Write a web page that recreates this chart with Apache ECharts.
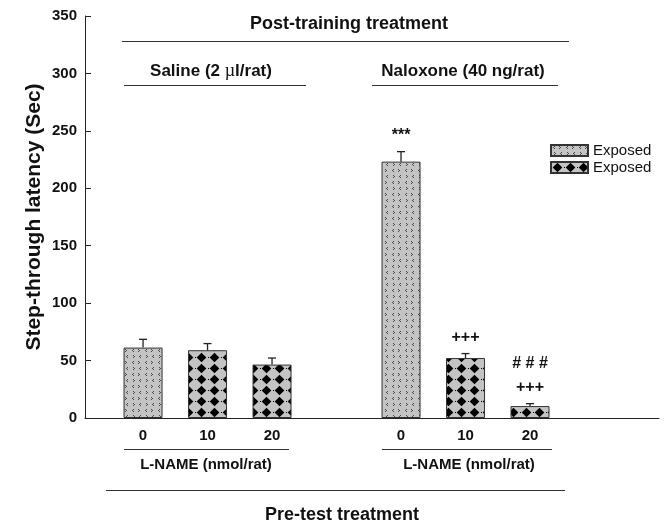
<!DOCTYPE html>
<html>
<head>
<meta charset="utf-8">
<script src="https://cdn.jsdelivr.net/npm/echarts@6/dist/echarts.min.js"></script>
<style>
  html, body { margin: 0; padding: 0; background: #fff; }
  #chart { width: 668px; height: 526px; }
</style>
</head>
<body>
<div id="chart"></div>
<script>
// Bar slots along the x axis (slot 4 is the gap between the two treatment groups)
const positions = [1, 2, 3, 5, 6, 7];
// L-NAME dose shown under each bar (nmol/rat)
const doseLabels = ['0', '10', '20', '0', '10', '20'];
// Mean step-through latency (s) and its SEM
const latency = [61.3, 59.0, 46.5, 223.2, 52.2, 10.4];
const sem = [7.2, 5.8, 5.7, 8.7, 3.9, 2.1];
// Which fill each bar uses: 0 = vehicle pre-test, 1 = L-NAME pre-test
const fillGroup = [0, 1, 1, 0, 1, 1];
// Significance marks stacked above the error bars (bottom line first)
const sigMarks = [[], [], [], ['***'], ['+++'], ['+++', '# # #']];
// Y axis ticks
const yTicks = { min: 0, max: 350, step: 50 };

const FONT = 'Arial, "Liberation Sans", Helvetica, sans-serif';
const INK = '#111';
const GROUND = '#c4c4c4';

// Tiled fill: grey ground with small "<" / ">" chevrons drawn pixel by pixel
function chevronTile() {
  const c = document.createElement('canvas');
  c.width = 13; c.height = 12;
  const g = c.getContext('2d');
  g.fillStyle = GROUND;
  g.fillRect(0, 0, 13, 12);
  g.fillStyle = '#4a4a4a';
  function lt(x, y) { g.fillRect(x + 1, y - 1, 1, 1); g.fillRect(x, y, 1, 1); g.fillRect(x + 1, y + 1, 1, 1); }
  function gt(x, y) { g.fillRect(x, y - 1, 1, 1); g.fillRect(x + 1, y, 1, 1); g.fillRect(x, y + 1, 1, 1); }
  lt(2, 2); gt(8, 2);
  gt(3, 8); lt(9, 8);
  return c;
}

// Tiled fill: grey ground with black diamonds
function diamondTile() {
  const c = document.createElement('canvas');
  c.width = 13; c.height = 11;
  const g = c.getContext('2d');
  g.fillStyle = GROUND;
  g.fillRect(0, 0, 13, 11);
  g.fillStyle = '#000';
  g.beginPath();
  g.moveTo(6.5, 0.8); g.lineTo(11.3, 5.5); g.lineTo(6.5, 10.2); g.lineTo(1.7, 5.5);
  g.closePath();
  g.fill();
  g.fillRect(0, 5, 1, 1);
  return c;
}

const fills = [
  { image: chevronTile(), repeat: 'repeat' },
  { image: diamondTile(), repeat: 'repeat' }
];

function barData(group) {
  const out = [];
  positions.forEach((p, i) => { if (fillGroup[i] === group) out.push([p, latency[i]]); });
  return out;
}

const errData = positions.map((p, i) => [p, latency[i], sem[i]]);

function renderErrorBars(params, api) {
  const x = api.value(0), y = api.value(1), e = api.value(2);
  const base = api.coord([x, y]);
  const top = api.coord([x, y + e]);
  const half = 4;
  const ink = { stroke: '#222', lineWidth: 1.3 };
  const children = [
    { type: 'line', shape: { x1: base[0], y1: base[1], x2: top[0], y2: top[1] }, style: ink },
    { type: 'line', shape: { x1: top[0] - half, y1: top[1], x2: top[0] + half, y2: top[1] }, style: ink }
  ];
  (sigMarks[params.dataIndex] || []).forEach((t, k) => {
    children.push({
      type: 'text',
      style: {
        text: t, x: top[0], y: top[1] - 16 - k * 24,
        align: 'center', verticalAlign: 'middle',
        font: 'bold 16px ' + FONT, fill: INK
      }
    });
  });
  return { type: 'group', children };
}

const chart = echarts.init(document.getElementById('chart'), null, { renderer: 'canvas' });

const boldText = (size) => ({ fontFamily: FONT, fontWeight: 'bold', fontSize: size, color: INK });

chart.setOption({
  animation: false,
  backgroundColor: '#fff',
  grid: { left: 85, right: 9, top: 16, bottom: 108 },
  xAxis: {
    type: 'value',
    min: 0.1,
    max: 9,
    axisLine: { show: true, lineStyle: { color: '#222', width: 1 } },
    axisTick: { show: false },
    splitLine: { show: false },
    axisLabel: {
      customValues: positions,
      margin: 10,
      formatter: (v) => {
        const i = positions.indexOf(Math.round(v));
        return i >= 0 ? doseLabels[i] : '';
      },
      ...boldText(15)
    }
  },
  yAxis: {
    type: 'value',
    min: yTicks.min,
    max: yTicks.max,
    interval: yTicks.step,
    name: 'Step-through latency (Sec)',
    nameLocation: 'middle',
    nameGap: 40,
    nameMoveOverlap: false,
    nameTextStyle: boldText(21),
    axisLine: { show: true, lineStyle: { color: '#222', width: 1 } },
    axisTick: { show: true, inside: true, length: 6, lineStyle: { color: '#222' } },
    splitLine: { show: false },
    axisLabel: { margin: 8, ...boldText(15) }
  },
  legend: {
    orient: 'vertical',
    left: 545,
    top: 138,
    itemWidth: 37,
    itemHeight: 11,
    itemGap: 2,
    icon: 'rect',
    formatter: () => 'Exposed',
    textStyle: { fontFamily: FONT, fontSize: 15, color: INK },
    data: ['Exposed (vehicle)', 'Exposed (L-NAME)']
  },
  series: [
    {
      name: 'Exposed (vehicle)',
      type: 'bar',
      barWidth: 39,
      barGap: '-100%',
      itemStyle: { color: fills[0], borderColor: '#333', borderWidth: 1 },
      data: barData(0)
    },
    {
      name: 'Exposed (L-NAME)',
      type: 'bar',
      barWidth: 39,
      barGap: '-100%',
      itemStyle: { color: fills[1], borderColor: '#333', borderWidth: 1 },
      data: barData(1)
    },
    {
      name: 'SEM',
      type: 'custom',
      renderItem: renderErrorBars,
      data: errData,
      z: 5,
      silent: true
    }
  ],
  graphic: [
    // Post-training header
    { type: 'text', style: { text: 'Post-training treatment', x: 349, y: 24, align: 'center', verticalAlign: 'middle', font: 'bold 18px ' + FONT, fill: INK } },
    { type: 'line', shape: { x1: 122, y1: 41.5, x2: 569, y2: 41.5 }, style: { stroke: '#333', lineWidth: 1 } },
    {
      type: 'text',
      style: {
        text: 'Saline (2 {mu|µ}l/rat)', x: 211, y: 71, align: 'center', verticalAlign: 'middle',
        font: 'bold 17px ' + FONT, fill: INK,
        rich: { mu: { fontFamily: '"Liberation Serif", "DejaVu Serif", serif', fontSize: 18, fontWeight: 'normal', fill: INK } }
      }
    },
    { type: 'line', shape: { x1: 124, y1: 85.5, x2: 306, y2: 85.5 }, style: { stroke: '#333', lineWidth: 1 } },
    { type: 'text', style: { text: 'Naloxone (40 ng/rat)', x: 463, y: 71, align: 'center', verticalAlign: 'middle', font: 'bold 17px ' + FONT, fill: INK } },
    { type: 'line', shape: { x1: 372, y1: 85.5, x2: 558, y2: 85.5 }, style: { stroke: '#333', lineWidth: 1 } },
    // Pre-test labels
    { type: 'line', shape: { x1: 124, y1: 449.5, x2: 289, y2: 449.5 }, style: { stroke: '#333', lineWidth: 1 } },
    { type: 'line', shape: { x1: 382, y1: 449.5, x2: 552, y2: 449.5 }, style: { stroke: '#333', lineWidth: 1 } },
    { type: 'text', style: { text: 'L-NAME (nmol/rat)', x: 206, y: 465, align: 'center', verticalAlign: 'middle', font: 'bold 15px ' + FONT, fill: INK } },
    { type: 'text', style: { text: 'L-NAME (nmol/rat)', x: 469, y: 465, align: 'center', verticalAlign: 'middle', font: 'bold 15px ' + FONT, fill: INK } },
    { type: 'line', shape: { x1: 106, y1: 490.5, x2: 565, y2: 490.5 }, style: { stroke: '#333', lineWidth: 1 } },
    { type: 'text', style: { text: 'Pre-test treatment', x: 342, y: 515, align: 'center', verticalAlign: 'middle', font: 'bold 18px ' + FONT, fill: INK } }
  ]
});
</script>
</body>
</html>
